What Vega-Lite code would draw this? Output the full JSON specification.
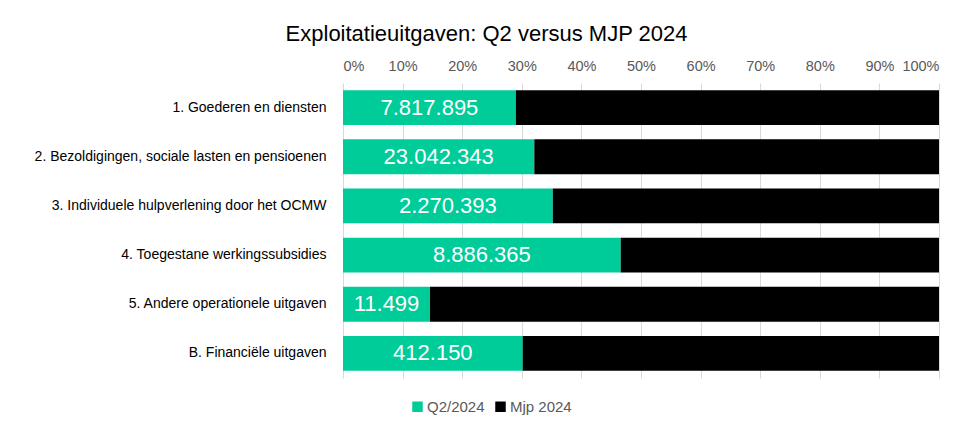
{
  "$schema": "https://vega.github.io/schema/vega-lite/v6.json",
  "width": 596,
  "height": 295,
  "padding": {"left": 34, "top": 23, "right": 20, "bottom": 5},
  "background": "white",
  "title": {"text": "Exploitatieuitgaven: Q2 versus MJP 2024", "frame": "bounds", "anchor": "middle", "font": "Liberation Sans", "fontSize": 22, "fontWeight": "normal", "color": "#000000", "offset": 12},
  "config": {
    "locale": {"number": {"decimal": ",", "thousands": ".", "grouping": [3], "currency": ["€", ""]}},
    "view": {"stroke": null},
    "font": "Liberation Sans",
    "axis": {"labelFont": "Liberation Sans"},
    "legend": {"labelFont": "Liberation Sans"},
    "text": {"font": "Liberation Sans"}
  },
  "data": {"values": [
    {"cat": "1. Goederen en diensten", "serie": "Q2/2024", "ord": 1, "value": 7817895},
    {"cat": "1. Goederen en diensten", "serie": "Mjp 2024", "ord": 2, "value": 19140000},
    {"cat": "2. Bezoldigingen, sociale lasten en pensioenen", "serie": "Q2/2024", "ord": 1, "value": 23042343},
    {"cat": "2. Bezoldigingen, sociale lasten en pensioenen", "serie": "Mjp 2024", "ord": 2, "value": 48740000},
    {"cat": "3. Individuele hulpverlening door het OCMW", "serie": "Q2/2024", "ord": 1, "value": 2270393},
    {"cat": "3. Individuele hulpverlening door het OCMW", "serie": "Mjp 2024", "ord": 2, "value": 4179600},
    {"cat": "4. Toegestane werkingssubsidies", "serie": "Q2/2024", "ord": 1, "value": 8886365},
    {"cat": "4. Toegestane werkingssubsidies", "serie": "Mjp 2024", "ord": 2, "value": 10183000},
    {"cat": "5. Andere operationele uitgaven", "serie": "Q2/2024", "ord": 1, "value": 11499},
    {"cat": "5. Andere operationele uitgaven", "serie": "Mjp 2024", "ord": 2, "value": 67260},
    {"cat": "B. Financiële uitgaven", "serie": "Q2/2024", "ord": 1, "value": 412150},
    {"cat": "B. Financiële uitgaven", "serie": "Mjp 2024", "ord": 2, "value": 954800}
  ]},
  "transform": [
    {"stack": "value", "groupby": ["cat"], "offset": "normalize", "sort": [{"field": "ord", "order": "ascending"}], "as": ["v0", "v1"]},
    {"calculate": "(datum.v0 + datum.v1) / 2", "as": "mid"}
  ],
  "encoding": {
    "y": {"field": "cat", "type": "nominal", "sort": null, "title": null,
      "scale": {"paddingInner": 0.29, "paddingOuter": 0.145},
      "axis": {"domain": false, "ticks": false, "labelFont": "Liberation Sans", "labelFontSize": 14, "labelColor": "#000000", "labelPadding": 17, "labelLimit": 400}}
  },
  "layer": [
    {
      "mark": {"type": "bar"},
      "encoding": {
        "x": {"field": "v0", "type": "quantitative", "title": null,
          "scale": {"domain": [0, 1], "nice": false},
          "axis": {"orient": "top", "format": ".0%", "values": [0, 0.1, 0.2, 0.3, 0.4, 0.5, 0.6, 0.7, 0.8, 0.9, 1], "domain": false, "ticks": false, "grid": true, "gridColor": "#D9D9D9", "gridWidth": 1, "labelFont": "Liberation Sans", "labelFontSize": 14.5, "labelColor": "#595959", "labelPadding": 10}},
        "x2": {"field": "v1"},
        "color": {"field": "serie", "type": "nominal",
          "scale": {"domain": ["Q2/2024", "Mjp 2024"], "range": ["#00CC99", "#000000"]},
          "legend": {"title": null, "orient": "none", "legendX": 67, "legendY": 316, "direction": "horizontal", "symbolType": "square", "symbolSize": 110, "symbolStrokeWidth": 0, "labelFont": "Liberation Sans", "labelFontSize": 15, "labelColor": "#595959", "columnPadding": 8, "labelOffset": 2}}
      }
    },
    {
      "transform": [{"filter": "datum.serie == 'Q2/2024'"}],
      "mark": {"type": "text", "color": "white", "fontSize": 22, "align": "center", "baseline": "middle", "font": "Liberation Sans"},
      "encoding": {
        "x": {"field": "mid", "type": "quantitative"},
        "text": {"field": "value", "type": "quantitative", "format": ",.0f"}
      }
    }
  ]
}
